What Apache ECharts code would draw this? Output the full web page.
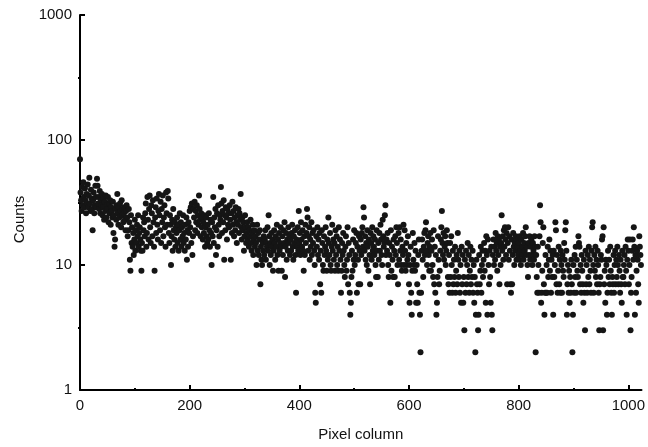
<!DOCTYPE html>
<html>
<head>
<meta charset="utf-8">
<script src="https://cdn.jsdelivr.net/npm/echarts@6/dist/echarts.min.js"></script>
<style>
html, body { margin: 0; padding: 0; background: #fff; }
#chart { width: 648px; height: 447px; }
</style>
</head>
<body>
<div id="chart"></div>
<script>
// counts per pixel column (128 columns per block)
const block0 = [
  70,38,33,27,42,30,46,35,29,41,33,26,37,31,44,29,
  36,50,31,27,40,34,28,19,33,38,26,30,43,35,29,49,
  43,31,35,28,39,26,33,30,37,25,29,34,23,32,27,36,
  24,30,28,35,22,31,26,33,21,29,27,24,32,18,25,14,
  16,28,23,30,37,26,21,29,24,31,27,20,33,25,28,22,
  26,29,23,19,27,30,24,17,19,28,22,11,9,25,15,20,
  14,18,12,16,23,13,19,15,21,17,25,14,18,20,16,13,
  9,15,13,24,19,22,17,26,31,14,18,35,23,16,28,36
];
const block1 = [
  20,15,30,26,17,33,22,14,9,24,29,18,34,21,16,27,
  37,25,19,32,15,28,22,36,17,24,30,20,14,38,26,21,
  39,34,18,15,25,21,10,17,23,13,28,19,16,22,14,20,
  18,24,15,21,13,19,26,16,22,14,20,17,25,15,18,13,
  21,16,24,11,19,14,22,18,27,20,29,15,31,12,17,28,
  24,32,19,27,22,30,18,25,21,36,28,23,17,26,20,24,
  16,22,18,25,14,20,24,17,15,21,16,26,19,14,23,18,
  10,22,17,35,15,24,20,28,12,19,26,14,30,21,17,25
];
const block2 = [
  23,42,31,18,27,22,33,11,25,19,29,24,16,28,21,26,
  20,30,23,11,26,18,32,21,27,17,24,19,29,22,15,25,
  21,28,18,26,23,37,20,16,24,19,22,13,17,25,20,15,
  18,22,16,20,14,19,17,23,15,13,18,21,12,16,19,14,
  17,15,10,21,13,18,12,16,19,7,14,11,10,15,13,17,
  12,16,19,11,15,14,20,13,25,17,10,15,12,18,14,16,
  9,13,19,15,11,17,14,21,12,16,9,18,13,15,20,14,
  9,17,12,19,15,22,8,14,18,11,16,13,20,15,17,12
];
const block3 = [
  16,13,18,21,14,11,17,15,19,12,6,16,14,20,13,27,
  15,18,12,22,16,14,19,13,9,17,12,21,15,18,28,24,
  13,17,20,11,16,14,22,12,18,15,19,13,10,6,5,17,
  14,20,12,16,11,18,7,13,6,19,15,10,9,17,12,14,
  20,13,9,16,11,24,15,12,18,10,9,14,21,13,16,11,
  15,9,19,12,17,10,14,9,20,13,16,11,6,9,15,12,
  18,13,10,8,14,17,9,11,20,7,15,12,6,4,5,8,
  13,9,16,11,19,10,12,15,18,6,14,11,7,17,13,7
];
const block4 = [
  16,12,18,20,14,29,24,13,17,11,15,10,19,14,9,16,
  12,7,18,15,11,20,13,17,14,12,16,10,8,19,13,8,
  15,11,18,13,21,16,12,10,23,17,14,15,25,30,12,16,
  13,18,10,8,15,12,5,19,9,14,11,8,16,13,8,17,
  12,20,15,10,7,18,11,20,13,16,10,9,14,12,21,10,
  19,13,9,15,10,11,17,12,7,5,10,14,6,4,9,18,
  11,10,15,9,13,5,10,7,5,12,16,6,4,2,6,13,
  16,11,8,14,18,12,19,22,13,10,15,17,12,9,14,18
];
const block5 = [
  9,13,16,10,8,19,7,14,6,12,4,5,8,17,11,7,
  9,13,16,20,27,15,12,18,11,14,17,10,13,19,15,8,
  7,12,6,15,8,17,10,6,13,7,11,8,14,6,9,12,
  7,18,11,8,13,6,10,5,14,7,12,5,8,3,11,6,
  13,7,10,15,8,12,6,9,14,7,11,8,13,6,10,5,
  8,2,4,11,7,6,3,4,12,7,9,14,6,10,13,8,
  11,15,9,13,5,17,12,4,16,10,7,13,8,5,14,4,
  3,12,16,10,14,11,18,13,15,9,17,12,16,7,14,10
];
const block6 = [
  15,25,13,17,11,19,14,20,16,12,18,7,15,20,11,17,
  13,7,6,16,7,12,18,14,10,15,13,17,11,16,14,12,
  15,11,17,13,10,16,12,14,18,11,15,13,17,20,12,14,
  10,8,15,12,17,11,14,16,12,10,15,13,11,17,14,2,
  12,8,6,14,10,6,17,30,22,5,6,9,15,20,7,4,
  6,12,6,10,6,14,8,11,16,9,13,6,11,8,12,4,
  13,8,10,22,19,7,12,6,9,14,7,11,6,13,10,6,
  12,9,8,15,11,19,22,13,4,7,10,6,9,5,8,6
];
const block7 = [
  11,7,2,4,10,6,12,8,14,6,11,9,8,17,15,14,
  7,10,6,12,9,7,5,11,6,3,13,7,10,6,12,8,
  14,7,11,9,6,13,20,22,10,6,12,9,14,8,11,7,
  13,10,6,3,7,8,12,11,16,17,3,20,7,9,5,11,
  10,4,6,13,8,11,7,14,9,6,4,8,7,12,6,10,
  13,7,11,8,14,10,7,12,9,6,11,7,5,13,8,8,
  10,12,7,14,9,4,11,16,13,7,10,16,3,6,8,13,
  16,11,20,14,4,12,6,9,13,11,7,5,17,14,12,10
];

const xTicks = [0, 200, 400, 600, 800, 1000];
const xMinorTicks = [100, 300, 500, 700, 900];
const yMinorTicks = [0.5, 1.5, 2.5]; // half decades, in log10 units

const counts = [].concat(block0, block1, block2, block3, block4, block5, block6, block7);
const points = counts.map((v, i) => [i, v]);

const font = { fontFamily: 'Liberation Sans, Arial, sans-serif', fontSize: 15, color: '#111' };
const blackLine = { lineStyle: { color: '#000', width: 2 } };

let chart = echarts.init(document.getElementById('chart'));
chart.setOption({
  animation: false,
  grid: { left: 80, right: 3, top: 15, bottom: 55 },
  xAxis: [
    {
      type: 'value', min: 0, max: 1024,
      name: 'Pixel column', nameLocation: 'middle', nameGap: 37,
      nameTextStyle: font,
      axisLine: blackLine,
      axisTick: { inside: true, length: 5, customValues: xTicks, lineStyle: { color: '#000', width: 2 } },
      axisLabel: Object.assign({ customValues: xTicks, margin: 8, formatter: v => String(v) }, font),
      splitLine: { show: false }
    },
    {
      // minor ticks only
      type: 'value', min: 0, max: 1024, position: 'bottom',
      axisLine: { show: false },
      axisTick: { inside: true, length: 2, customValues: xMinorTicks, lineStyle: { color: '#000', width: 2 } },
      axisLabel: { show: false },
      splitLine: { show: false }
    }
  ],
  yAxis: [
    {
      type: 'log', logBase: 10, min: 1, max: 1000,
      name: 'Counts', nameLocation: 'middle', nameGap: 52,
      nameTextStyle: Object.assign({ padding: [0, 34, 0, 0] }, font),
      axisLine: blackLine,
      axisTick: { inside: true, length: 5, lineStyle: { color: '#000', width: 2 } },
      axisLabel: Object.assign({ margin: 8, formatter: v => String(v) }, font),
      splitLine: { show: false },
      minorTick: { show: false }
    },
    {
      type: 'value', min: 0, max: 3, position: 'left',
      axisLine: { show: false },
      axisTick: { length: 2, customValues: yMinorTicks, lineStyle: { color: '#000', width: 2 } },
      axisLabel: { show: false },
      splitLine: { show: false }
    }
  ],
  series: [{
    type: 'scatter',
    data: points,
    symbol: 'circle',
    symbolSize: 6,
    itemStyle: { color: '#151515', opacity: 1 }
  }]
});
</script>
</body>
</html>
